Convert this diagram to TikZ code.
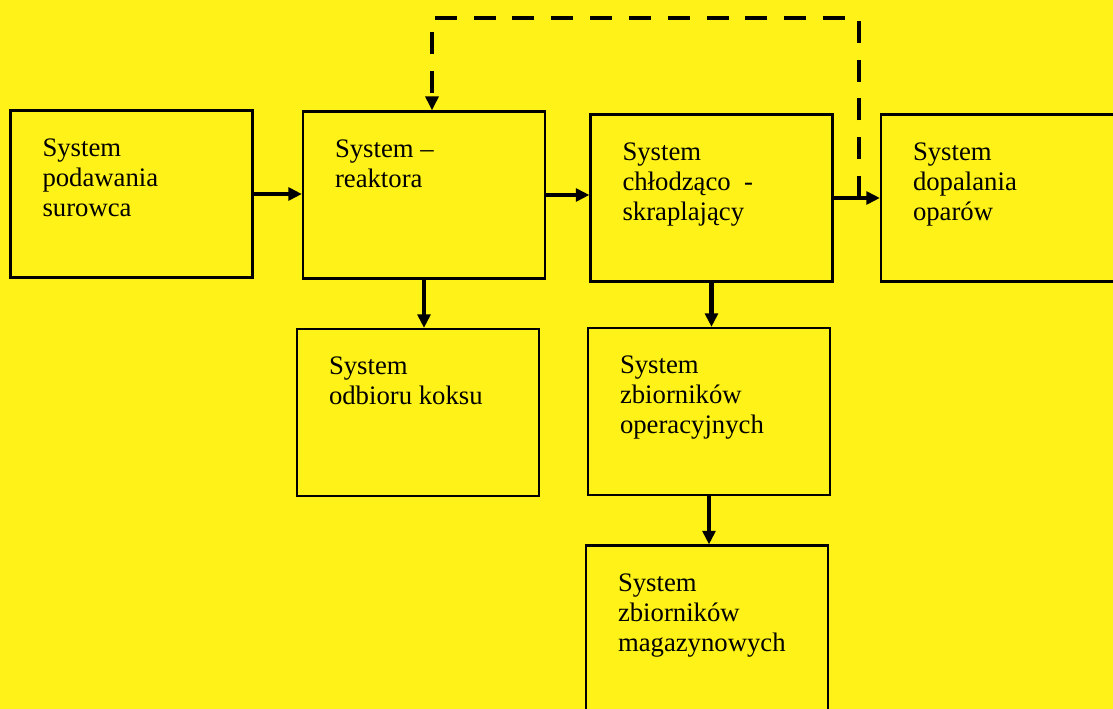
\documentclass[tikz,border=0pt]{standalone}
\usepackage{fontspec}
\setmainfont{Liberation Serif}
\usetikzlibrary{arrows.meta}
\definecolor{zolty}{RGB}{255,242,24}

\begin{document}
\begin{tikzpicture}[x=0.025cm,y=-0.025cm,
  blok/.style={draw=black,line width=1.5pt,fill=zolty,minimum width=6.05cm,minimum height=4.175cm},
  opis/.style={anchor=north west,align=left,inner sep=0pt,xshift=0.82cm,yshift=-0.72cm,
    font=\fontsize{19}{21.3}\selectfont},
  strz/.style={line width=3pt,-{Triangle[length=0.34cm,width=0.32cm]}},
  zwrot/.style={line width=2.8pt,dash pattern=on 0.55cm off 0.42cm,-{Triangle[length=0.35cm,width=0.32cm]}}]
\fill[zolty](0,0) rectangle (1113,709);
\useasboundingbox (0,0) rectangle (1113,709);
\node[blok,label={[opis]north west:System\\podawania\\surowca}] (A) at (131.5,194) {};
\node[blok,label={[opis]north west:System –\\reaktora}] (B) at (424,195) {};
\node[blok,label={[opis]north west:System\\chłodząco \ -\\skraplający}] (C) at (711.5,198) {};
\node[blok,label={[opis]north west:System\\dopalania\\oparów}] (D) at (1002,198) {};
\node[blok,label={[opis]north west:System\\odbioru koksu}] (E) at (418,412.5) {};
\node[blok,label={[opis]north west:System\\zbiorników\\operacyjnych}] (F) at (709,411.5) {};
\node[blok,label={[opis]north west:System\\zbiorników\\magazynowych}] (G) at (707,629) {};
\draw[strz](A.east)--(A.east -| B.west);
\draw[strz](B.east)--(B.east -| C.west);
\draw[strz](C.east)--(C.east -| D.west);
\draw[strz](B.south)--(B.south |- E.north);
\draw[strz](C.south)--(C.south |- F.north);
\draw[strz](F.south)--(F.south |- G.north);
\coordinate (split) at (859,198);
\coordinate (gora) at (859,18);
\coordinate (lewo) at (432,18);
\draw[zwrot](split)--(gora)--(lewo)--(lewo |- B.north);
\end{tikzpicture}
\end{document}
